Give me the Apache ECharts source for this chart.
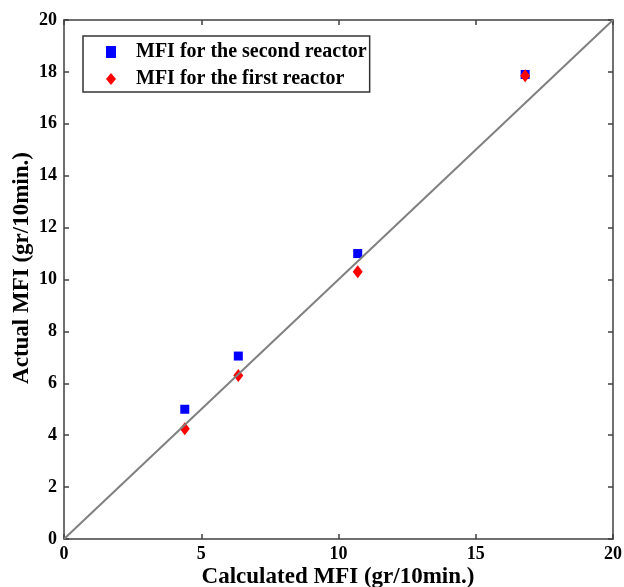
<!DOCTYPE html>
<html>
<head>
<meta charset="utf-8">
<script src="https://cdn.jsdelivr.net/npm/echarts@6/dist/echarts.min.js"></script>
<style>html,body{margin:0;padding:0;background:#fff}#c{width:624px;height:587px}</style>
</head>
<body>
<div id="c"></div>
<script>
var calculatedMFI = [4.4, 6.35, 10.7, 16.8];
var actualSecond = [5.0, 7.05, 11.0, 17.9];
var actualFirst = [4.25, 6.3, 10.3, 17.85];
var seriesNames = ['MFI for the second reactor', 'MFI for the first reactor'];
var diagonal = [[0, 0], [20, 20]];
var xTitle = 'Calculated MFI (gr/10min.)';
var yTitle = 'Actual MFI (gr/10min.)';

function pairs(xs, ys) { return xs.map(function (x, i) { return [x, ys[i]]; }); }

var font = '"Liberation Serif","Times New Roman",serif';
var axisLine = { show: true, onZero: false, lineStyle: { color: '#404040', width: 1.5 } };
var tickStyle = { show: true, inside: true, length: 5, lineStyle: { color: '#404040', width: 1.5 } };
var chart = echarts.init(document.getElementById('c'), null, { renderer: 'canvas' });
chart.setOption({
  animation: false,
  backgroundColor: '#fff',
  grid: { left: 64, right: 11, top: 20, bottom: 48, containLabel: false, outerBoundsMode: 'none' },
  legend: {
    orient: 'vertical', left: 83, top: 36,
    padding: [6, 3, 3, 23],
    borderColor: '#333', borderWidth: 1.5,
    itemWidth: 10, itemHeight: 12, itemGap: 7,
    textStyle: { fontFamily: font, fontWeight: 'bold', fontSize: 20, color: '#000', padding: [0, 0, 0, 15] },
    data: [{ name: seriesNames[0], icon: 'rect' }, { name: seriesNames[1], icon: 'diamond' }]
  },
  xAxis: [{
    type: 'value', min: 0, max: 20, interval: 5, position: 'bottom',
    axisLine: axisLine, axisTick: tickStyle,
    axisLabel: { fontFamily: font, fontWeight: 'bold', fontSize: 18, color: '#000', margin: 6 },
    splitLine: { show: false }
  }, {
    type: 'value', min: 0, max: 20, interval: 5, position: 'top',
    axisLine: axisLine, axisTick: tickStyle,
    axisLabel: { show: false }, splitLine: { show: false }
  }],
  yAxis: [{
    type: 'value', min: 0, max: 20, interval: 2, position: 'left',
    axisLine: axisLine, axisTick: tickStyle,
    axisLabel: { fontFamily: font, fontWeight: 'bold', fontSize: 18, color: '#000', margin: 7 },
    splitLine: { show: false }
  }, {
    type: 'value', min: 0, max: 20, interval: 2, position: 'right',
    axisLine: axisLine, axisTick: tickStyle,
    axisLabel: { show: false }, splitLine: { show: false }
  }],
  graphic: [{
    type: 'text', x: 338, y: 577,
    style: { text: xTitle, font: 'bold 23px ' + font, fill: '#000', align: 'center', verticalAlign: 'middle' }
  }, {
    type: 'text', x: 22, y: 268, rotation: Math.PI / 2, originX: 0, originY: 0,
    style: { text: yTitle, font: 'bold 23px ' + font, fill: '#000', align: 'center', verticalAlign: 'middle' }
  }],
  series: [{
    type: 'line', data: diagonal, symbol: 'none', silent: true,
    lineStyle: { color: '#808080', width: 2 }
  }, {
    type: 'line', xAxisIndex: 1, yAxisIndex: 1, data: [], silent: true
  }, {
    name: seriesNames[0], type: 'scatter', data: pairs(calculatedMFI, actualSecond),
    symbol: 'rect', symbolSize: 9, itemStyle: { color: '#0000ff', opacity: 1 }
  }, {
    name: seriesNames[1], type: 'scatter', data: pairs(calculatedMFI, actualFirst),
    symbol: 'diamond', symbolSize: [10, 13], itemStyle: { color: '#ff0000', opacity: 1 }
  }]
});
</script>
</body>
</html>
